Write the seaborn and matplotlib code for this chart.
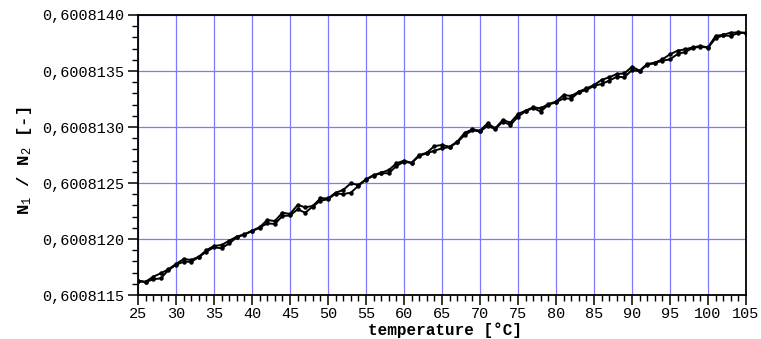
import numpy as np
import pandas as pd
import matplotlib
matplotlib.use("Agg")
import matplotlib.pyplot as plt
from matplotlib.ticker import MultipleLocator, FuncFormatter
import seaborn as sns

# temperature in degC
temperature = list(range(25, 106))
# N1/N2 ratio expressed as offset above 0.6008115 in units of 1e-7
base_ratio = 0.6008115
offset_run_a = [1.28, 1.19, 1.63, 1.94, 2.29, 2.77, 3.21, 3.13, 3.42, 4.00,
                4.38, 4.46, 4.85, 5.21, 5.42, 5.74, 6.04, 6.70, 6.60, 7.35,
                7.23, 8.04, 7.83, 7.95, 8.63, 8.63, 9.13, 9.38, 9.97, 9.82,
                10.33, 10.71, 10.92, 11.16, 11.76, 11.99, 11.81, 12.50, 12.70, 13.30,
                13.39, 13.24, 13.69, 14.49, 14.79, 14.67, 15.33, 14.88, 15.63, 15.39,
                16.16, 16.46, 16.76, 16.67, 17.05, 17.26, 17.86, 17.77, 18.15, 18.45,
                18.75, 19.20, 19.44, 19.73, 19.79, 20.38, 20.03, 20.63, 20.74, 21.04,
                21.49, 21.81, 21.94, 22.11, 22.23, 22.11, 23.13, 23.24, 23.42, 23.45,
                23.42]
offset_run_b = [1.22, 1.15, 1.40, 1.49, 2.22, 2.70, 2.97, 2.97, 3.38, 3.87,
                4.26, 4.17, 4.61, 5.15, 5.40, 5.70, 6.00, 6.40, 6.34, 7.05,
                7.10, 7.65, 7.35, 7.90, 8.42, 8.55, 9.05, 9.02, 9.13, 9.75,
                10.30, 10.65, 10.88, 10.87, 11.52, 11.90, 11.78, 12.42, 12.65, 12.88,
                13.10, 13.20, 13.62, 14.29, 14.70, 14.60, 15.09, 14.82, 15.48, 15.18,
                15.92, 16.40, 16.70, 16.37, 17.00, 17.20, 17.56, 17.53, 18.10, 18.30,
                18.68, 18.84, 19.14, 19.49, 19.44, 20.09, 19.98, 20.55, 20.70, 20.92,
                21.04, 21.52, 21.70, 22.05, 22.18, 22.08, 22.92, 23.18, 23.13, 23.40,
                23.40]

df = pd.concat([
    pd.DataFrame({"T": temperature,
                  "ratio": base_ratio + np.array(offset_run_a) * 1e-7,
                  "run": "a"}),
    pd.DataFrame({"T": temperature,
                  "ratio": base_ratio + np.array(offset_run_b) * 1e-7,
                  "run": "b"}),
])

sns.set_theme(style="white")
plt.rcParams["font.family"] = ["Liberation Mono", "DejaVu Sans Mono"]
plt.rcParams["mathtext.fontset"] = "custom"
plt.rcParams["mathtext.rm"] = "Liberation Mono"
plt.rcParams["mathtext.bf"] = "Liberation Mono:bold"
plt.rcParams["mathtext.it"] = "Liberation Mono"

fig = plt.figure(figsize=(7.61, 3.39), dpi=100)
ax = fig.add_axes([138 / 761, 44 / 339, 608 / 761, 280 / 339])

sns.lineplot(data=df, x="T", y="ratio", units="run", estimator=None,
             color="black", marker="o", markersize=3.2, markeredgewidth=0,
             linewidth=1.4, legend=False, ax=ax, sort=False)

ax.set_xlim(25, 105)
ax.set_ylim(0.6008115, 0.6008140)
ax.xaxis.set_major_locator(MultipleLocator(5))
ax.xaxis.set_minor_locator(MultipleLocator(1))
ax.yaxis.set_major_locator(MultipleLocator(5e-7))
ax.yaxis.set_minor_locator(MultipleLocator(1e-7))
ax.yaxis.set_major_formatter(FuncFormatter(lambda v, p: f"{v:.7f}".replace(".", ",")))
ax.xaxis.set_major_formatter(FuncFormatter(lambda v, p: f"{v:.0f}"))

ax.grid(True, which="major", color="#7a7aff", linewidth=0.9)
ax.set_axisbelow(True)
for s in ax.spines.values():
    s.set_color("black")
    s.set_linewidth(1.3)

ax.tick_params(axis="both", which="major", direction="out", length=7, width=1.1,
               color="black", labelsize=11, labelcolor="black", pad=3)
ax.tick_params(axis="both", which="minor", direction="out", length=4, width=1.0,
               color="black")
ax.tick_params(axis="y", which="both", left=True, right=False)
ax.tick_params(axis="x", which="both", bottom=True, top=False)
ax.tick_params(axis="x", which="major", pad=2)

ax.set_xlabel("temperature [°C]", fontsize=11.5, fontweight="bold",
              color="black", va="center")
ax.xaxis.set_label_coords(0.505, -0.126)
ax.set_ylabel(r"N$_{\mathrm{1}}$ / N$_{\mathrm{2}}$ [-]", fontsize=12.5,
              fontweight="bold", color="black", va="center")
ax.yaxis.set_label_coords(-0.186, 0.48)

fig.savefig("out.png", dpi=100)
